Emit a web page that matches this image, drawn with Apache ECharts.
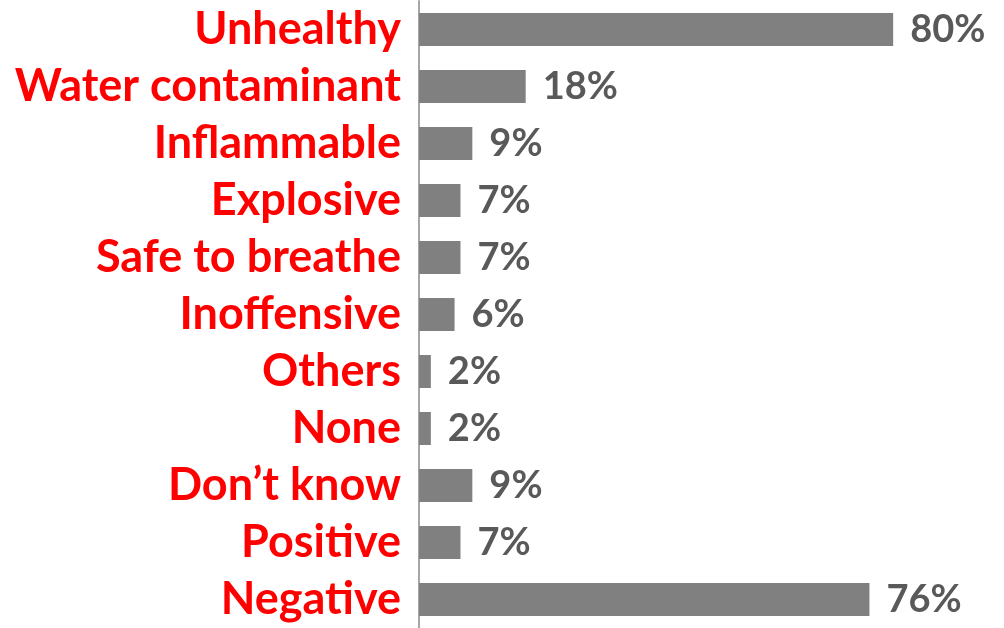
<!DOCTYPE html>
<html>
<head>
<meta charset="utf-8">
<script src="https://cdn.jsdelivr.net/npm/echarts@6/dist/echarts.min.js"></script>
<style>
  html, body { margin: 0; padding: 0; background: #ffffff; }
  #chart { width: 1004px; height: 628px; }
</style>
</head>
<body>
<div id="chart"></div>
<script>
// Perception categories, top to bottom
const categories = [
  'Unhealthy', 'Water contaminant', 'Inflammable', 'Explosive',
  'Safe to breathe', 'Inoffensive', 'Others', 'None',
  'Don\u2019t know', 'Positive', 'Negative'
];
// Share of respondents (%)
const values = [80, 18, 9, 7, 7, 6, 2, 2, 9, 7, 76];

const chart = echarts.init(document.getElementById('chart'));
chart.setOption({
  animation: false,
  grid: { left: 419, right: 0, top: 1, bottom: -2, containLabel: false },
  xAxis: {
    type: 'value', min: 0, max: 98.7,
    show: false
  },
  yAxis: {
    type: 'category',
    data: categories,
    inverse: true,
    axisLine: { show: true, lineStyle: { color: '#a6a6a6', width: 2 } },
    axisTick: { show: false },
    axisLabel: {
      interval: 0,
      color: '#ff0000',
      fontFamily: 'Lato',
      fontWeight: 'bold',
      fontSize: 45,
      margin: 18
    }
  },
  series: [{
    type: 'bar',
    data: values,
    barCategoryGap: '42%',
    itemStyle: { color: '#808080' },
    label: {
      show: true,
      position: 'right',
      distance: 17,
      formatter: '{c}%',
      color: '#595959',
      fontFamily: 'Lato',
      fontWeight: 'bold',
      fontSize: 38
    }
  }]
});
</script>
</body>
</html>
